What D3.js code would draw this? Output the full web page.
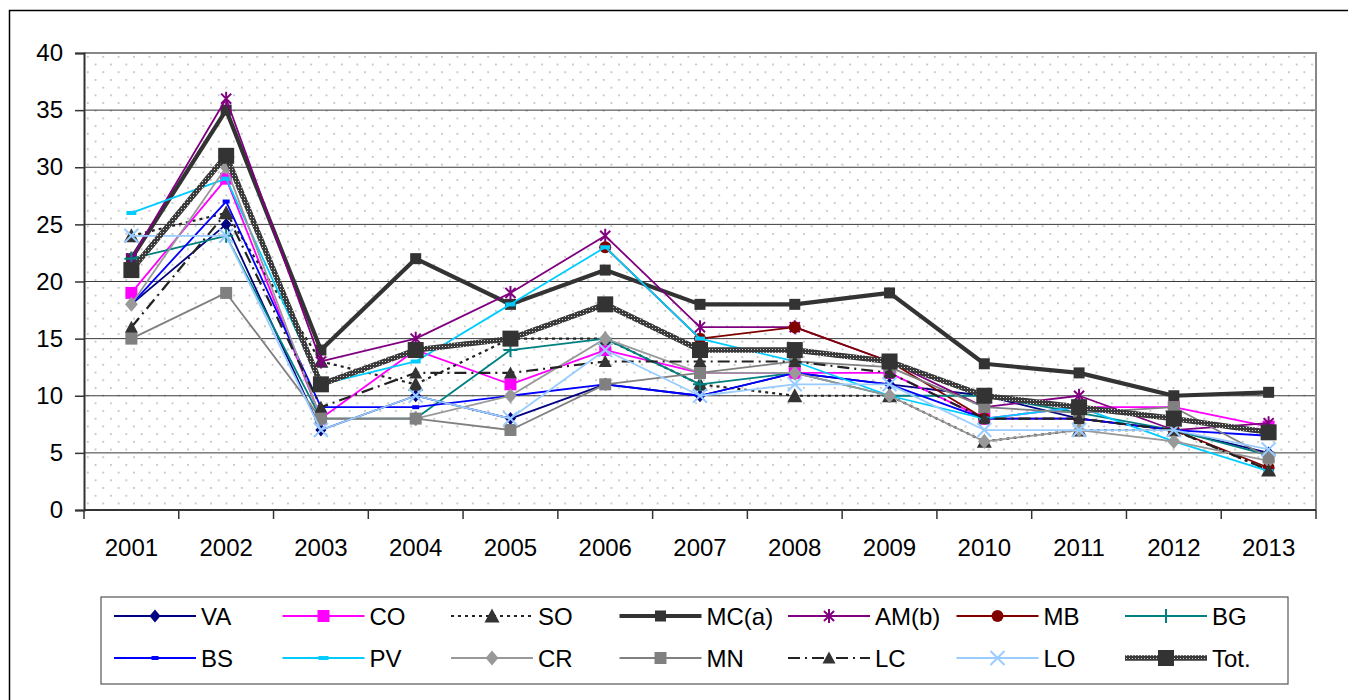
<!DOCTYPE html>
<html>
<head>
<meta charset="utf-8">
<script src="https://cdn.jsdelivr.net/npm/d3@7"></script>
<style>
  body { margin: 0; background: #fff; }
  svg { display: block; font-family: "Liberation Sans", Arial, sans-serif; }
</style>
</head>
<body>
<svg id="chart" width="1348" height="700"></svg>
<script>
// data
var years = ["2001","2002","2003","2004","2005","2006","2007","2008","2009","2010","2011","2012","2013"];
var yTicks = [0, 5, 10, 15, 20, 25, 30, 35, 40];

var VA  = [18, 25, 7, 10, 8, 11, 10, 12, 11, 10, 8, 7, 5];
var CO  = [19, 29, 8, 14, 11, 14, 12, 12, 12, 8, 9, 9, 7.3];
var SO  = [24, 26, 13, 11, 15, 15, 11, 10, 10, 6, 7, 7, 3.5];
var MC  = [22, 35, 14, 22, 18, 21, 18, 18, 19, 12.8, 12, 10, 10.3];
var AM  = [22, 36, 13, 15, 19, 24, 16, 16, 13, 9, 10, 7, 7.6];
var MB  = [null, null, null, null, null, 23, 15, 16, 13, 8, 8, 7, 3.7];
var BG  = [22, 24, 8, 8, 14, 15, 11, 12, 10, 10, 8.5, 7, 4.8];
var BS  = [18, 27, 9, 9, 10, 11, 10, 12, 11, 8, 8, 7, 6.5];
var PV  = [26, 29, 11, 13, 18, 23, 15, 13, 10, 8, 9, 6, 3.4];
var CR  = [18, 30, 8, 8, 10, 15, 12, 12, 10, 6, 7, 6, 4.3];
var MN  = [15, 19, 8, 8, 7, 11, 12, 13, 12.5, 9, 8.5, 9, 4.6];
var LC  = [16, 26, 9, 12, 12, 13, 13, 13, 12, 8, 8, 7, 3.5];
var LO  = [24, 24, 7, 10, 8, 14, 10, 11, 11, 7, 7, 7, 5.3];
var TOT = [21, 31, 11, 14, 15, 18, 14, 14, 13, 10, 9, 8, 6.8];

var names  = ["VA","CO","SO","MC(a)","AM(b)","MB","BG","BS","PV","CR","MN","LC","LO","Tot."];
var values = [VA, CO, SO, MC, AM, MB, BG, BS, PV, CR, MN, LC, LO, TOT];

// look of each series
var styles = [
  {color:"#000080", width:1.8, dash:null,       marker:"diamond",  size:13, mcolor:"#000080"},
  {color:"#FF00FF", width:1.8, dash:null,       marker:"square",   size:12, mcolor:"#FF00FF"},
  {color:"#222222", width:2.2, dash:"3,4",      marker:"triangle", size:15, mcolor:"#333333"},
  {color:"#333333", width:4.2, dash:null,       marker:"square",   size:11, mcolor:"#333333"},
  {color:"#800080", width:1.8, dash:null,       marker:"star",     size:14, mcolor:"#800080"},
  {color:"#800000", width:1.8, dash:null,       marker:"circle",   size:12, mcolor:"#800000"},
  {color:"#008080", width:1.8, dash:null,       marker:"plus",     size:14, mcolor:"#008080"},
  {color:"#0000FF", width:1.8, dash:null,       marker:"dash",     size:7,  mcolor:"#0000FF"},
  {color:"#00CCFF", width:1.8, dash:null,       marker:"dash",     size:10, mcolor:"#00CCFF"},
  {color:"#999999", width:1.8, dash:null,       marker:"diamond",  size:15, mcolor:"#999999"},
  {color:"#808080", width:1.8, dash:null,       marker:"square",   size:12, mcolor:"#808080"},
  {color:"#222222", width:2.2, dash:"12,5,2,5", marker:"triangle", size:13, mcolor:"#333333"},
  {color:"#99CCFF", width:1.8, dash:null,       marker:"x",        size:14, mcolor:"#99CCFF"},
  {color:"url(#chk)", width:5.5, dash:null,     marker:"square",   size:16, mcolor:"#333333"}
];

var svg = d3.select("#chart");
var pLeft = 84, pRight = 1316, pTop = 53, pBottom = 510;

var defs = svg.append("defs");
var dots = defs.append("pattern")
    .attr("id", "dots")
    .attr("patternUnits", "userSpaceOnUse")
    .attr("x", pLeft).attr("y", pTop)
    .attr("width", 15.4).attr("height", 15.4);
dots.append("rect").attr("width", 15.4).attr("height", 15.4).attr("fill", "#fff");
dots.append("circle").attr("cx", 3.8).attr("cy", 3.8).attr("r", 0.85).attr("fill", "#aaaaaa");
dots.append("circle").attr("cx", 11.5).attr("cy", 11.5).attr("r", 0.85).attr("fill", "#aaaaaa");

var chk = defs.append("pattern")
    .attr("id", "chk")
    .attr("patternUnits", "userSpaceOnUse")
    .attr("width", 3).attr("height", 3);
chk.append("rect").attr("width", 3).attr("height", 3).attr("fill", "#3a3a3a");
chk.append("rect").attr("x", 1).attr("y", 1).attr("width", 1).attr("height", 1).attr("fill", "#d0d0d0");

// outer frame
svg.append("rect")
    .attr("x", 9.5).attr("y", 10.5)
    .attr("width", 1360).attr("height", 720)
    .attr("fill", "none").attr("stroke", "#000").attr("stroke-width", 1.5);

var x = d3.scaleBand().domain(years).range([pLeft, pRight]);
var y = d3.scaleLinear().domain([0, 40]).range([pBottom, pTop]);

svg.append("rect")
    .attr("x", pLeft).attr("y", pTop)
    .attr("width", pRight - pLeft).attr("height", pBottom - pTop)
    .attr("fill", "url(#dots)");

// gridlines
svg.append("g")
  .selectAll("line")
  .data(yTicks.filter(function(d) { return d > 0 && d < 40; }))
  .enter().append("line")
    .attr("x1", pLeft).attr("x2", pRight)
    .attr("y1", function(d) { return y(d); })
    .attr("y2", function(d) { return y(d); })
    .attr("stroke", "#3a3a3a").attr("stroke-width", 1);

// plot border top/right
svg.append("path")
    .attr("d", "M" + pLeft + "," + pTop + "H" + pRight + "V" + pBottom)
    .attr("fill", "none").attr("stroke", "#888").attr("stroke-width", 2);

// y axis
var yAxis = svg.append("g")
    .attr("transform", "translate(" + pLeft + ",0)")
    .call(d3.axisLeft(y).tickValues(yTicks).tickSize(9).tickPadding(12));
yAxis.select(".domain").attr("stroke", "#333").attr("stroke-width", 2);
yAxis.selectAll(".tick line").attr("stroke", "#333").attr("stroke-width", 1.5);
yAxis.selectAll("text").attr("font-size", 24).attr("fill", "#000")
    .attr("font-family", "'Liberation Sans', Arial, sans-serif");

// x axis: ticks between categories
var xAxis = svg.append("g")
    .attr("transform", "translate(0," + pBottom + ")");
xAxis.append("line")
    .attr("x1", pLeft).attr("x2", pRight)
    .attr("stroke", "#333").attr("stroke-width", 2);
xAxis.selectAll(".xt")
  .data(years.concat(["end"]))
  .enter().append("line")
    .attr("class", "xt")
    .attr("x1", function(d, i) { return i < years.length ? x(d) : pRight; })
    .attr("x2", function(d, i) { return i < years.length ? x(d) : pRight; })
    .attr("y1", 0).attr("y2", 9)
    .attr("stroke", "#333").attr("stroke-width", 1.5);
xAxis.selectAll(".xl")
  .data(years)
  .enter().append("text")
    .attr("class", "xl")
    .attr("x", function(d) { return x(d) + x.bandwidth() / 2; })
    .attr("y", 46)
    .attr("text-anchor", "middle")
    .attr("font-size", 24)
    .text(function(d) { return d; });

function markerPath(type, s) {
  var h = s / 2;
  if (type === "star") {
    var d = h * 0.72;
    return "M0," + (-h) + "V" + h + "M" + (-d) + "," + (-d) + "L" + d + "," + d +
           "M" + (-d) + "," + d + "L" + d + "," + (-d);
  }
  if (type === "plus") return "M0," + (-h) + "V" + h + "M" + (-h) + ",0H" + h;
  if (type === "x") return "M" + (-h) + "," + (-h) + "L" + h + "," + h + "M" + (-h) + "," + h + "L" + h + "," + (-h);
  if (type === "diamond") return "M0," + (-h) + "L" + (h * 0.85) + ",0L0," + h + "L" + (-h * 0.85) + ",0Z";
  if (type === "triangle") return "M0," + (-h) + "L" + h + "," + (h * 0.85) + "L" + (-h) + "," + (h * 0.85) + "Z";
  if (type === "square") return "M" + (-h) + "," + (-h) + "H" + h + "V" + h + "H" + (-h) + "Z";
  if (type === "dash") return "M" + (-h) + ",-2H" + h + "V2H" + (-h) + "Z";
  if (type === "circle") return d3.symbol(d3.symbolCircle, Math.PI * h * h)();
  return "";
}

function drawMarker(g, st, cx, cy) {
  var stroked = st.marker === "star" || st.marker === "plus" || st.marker === "x";
  g.append("path")
    .attr("transform", "translate(" + cx + "," + cy + ")")
    .attr("d", markerPath(st.marker, st.size))
    .attr("fill", stroked ? "none" : st.mcolor)
    .attr("stroke", stroked ? st.mcolor : "none")
    .attr("stroke-width", stroked ? 2 : 0);
}

var line = d3.line()
    .defined(function(d) { return d != null; })
    .x(function(d, i) { return x(years[i]) + x.bandwidth() / 2; })
    .y(function(d) { return y(d); });

var plot = svg.append("g");
values.forEach(function(vals, k) {
  var st = styles[k];
  var g = plot.append("g").attr("class", "series");
  g.append("path")
      .attr("d", line(vals))
      .attr("fill", "none")
      .attr("stroke", st.color)
      .attr("stroke-width", st.width)
      .attr("stroke-dasharray", st.dash)
      .attr("stroke-linejoin", "round");
  vals.forEach(function(v, i) {
    if (v == null) return;
    drawMarker(g, st, x(years[i]) + x.bandwidth() / 2, y(v));
  });
});

// legend
var lg = svg.append("g");
lg.append("rect")
    .attr("x", 101).attr("y", 597)
    .attr("width", 1187).attr("height", 87)
    .attr("fill", "#fff").attr("stroke", "#555").attr("stroke-width", 1.2);

names.forEach(function(name, k) {
  var st = styles[k];
  var col = k % 7, row = Math.floor(k / 7);
  var mx = 155 + col * 168.5, my = 616 + row * 42;
  lg.append("line")
      .attr("x1", mx - 41).attr("x2", mx + 41)
      .attr("y1", my).attr("y2", my)
      .attr("stroke", st.color)
      .attr("stroke-width", st.width)
      .attr("stroke-dasharray", st.dash);
  drawMarker(lg, st, mx, my);
  lg.append("text")
      .attr("x", mx + 46).attr("y", my)
      .attr("dy", "0.36em")
      .attr("font-size", 24)
      .text(name);
});
</script>
</body>
</html>
